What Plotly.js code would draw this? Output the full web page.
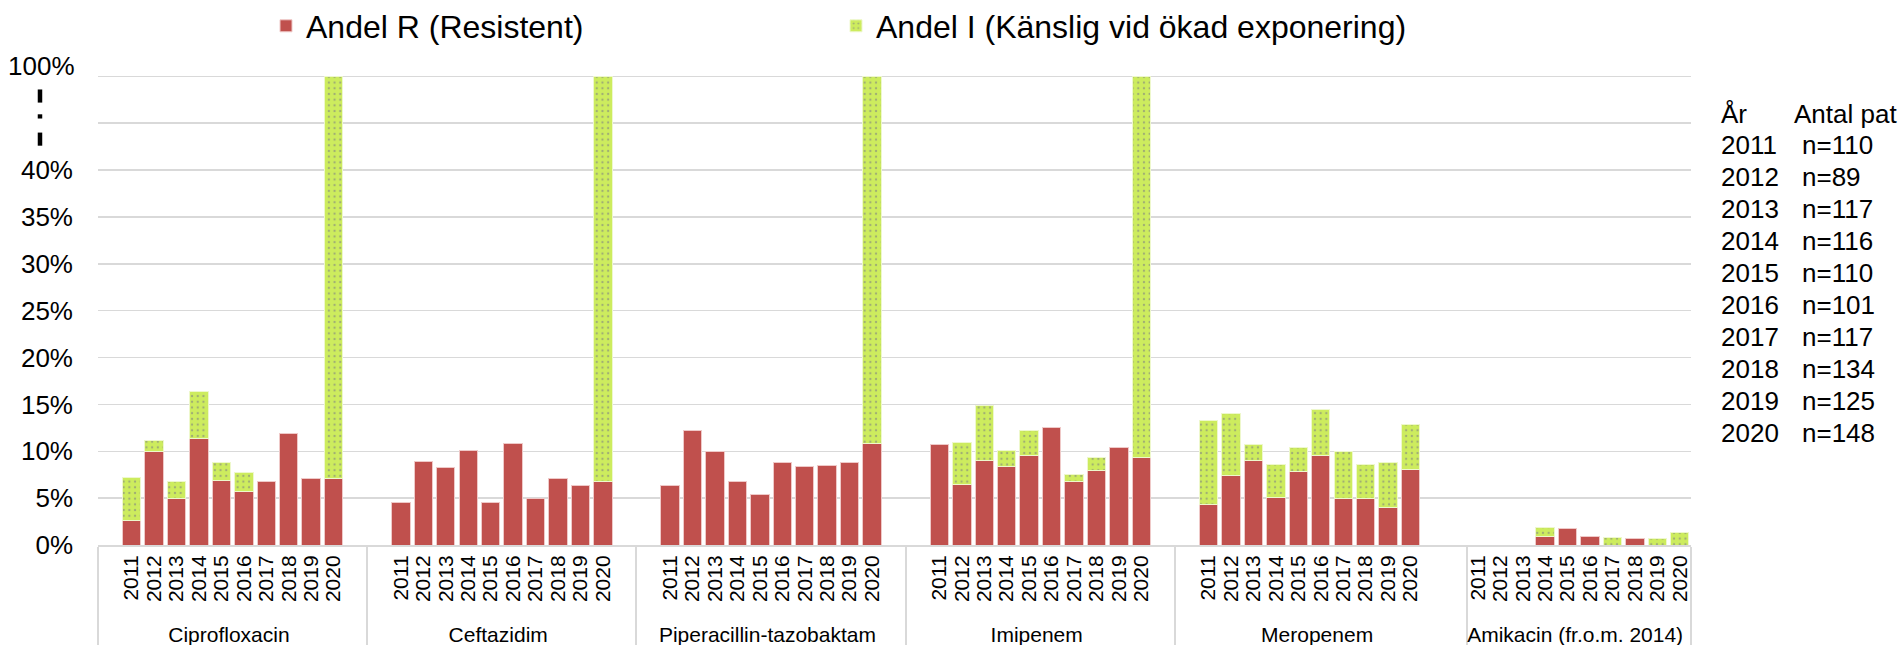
<!DOCTYPE html>
<html><head><meta charset="utf-8">
<script src="https://cdn.plot.ly/plotly-3.0.1.min.js"></script>
<style>html,body{margin:0;padding:0;background:#fff}#chart{width:1900px;height:645px}</style>
</head><body><div id="chart"></div>
<script>
// ---------- data ----------
const antibiotics = ["Ciprofloxacin", "Ceftazidim", "Piperacillin-tazobaktam", "Imipenem", "Meropenem", "Amikacin (fr.o.m. 2014)"];
const years = ["2011", "2012", "2013", "2014", "2015", "2016", "2017", "2018", "2019", "2020"];

const ciprofloxacinR = [2.6, 10.0, 5.0, 11.4, 6.9, 5.75, 6.8, 11.9, 7.1, 7.1];
const ciprofloxacinI = [4.6, 1.1, 1.8, 5.0, 1.85, 1.95, 0, 0, 0, 92.9];
const ceftazidimR = [4.5, 8.9, 8.3, 10.1, 4.5, 10.8, 5.0, 7.1, 6.4, 6.75];
const ceftazidimI = [0, 0, 0, 0, 0, 0, 0, 0, 0, 93.25];
const piptazR = [6.3, 12.2, 10.0, 6.75, 5.4, 8.8, 8.4, 8.5, 8.8, 10.8];
const piptazI = [0, 0, 0, 0, 0, 0, 0, 0, 0, 89.2];
const imipenemR = [10.7, 6.5, 9.0, 8.4, 9.5, 12.5, 6.75, 7.9, 10.4, 9.3];
const imipenemI = [0, 4.4, 5.85, 1.7, 2.7, 0, 0.8, 1.4, 0, 90.7];
const meropenemR = [4.35, 7.45, 9.05, 5.1, 7.8, 9.5, 4.95, 4.95, 3.95, 8.05];
const meropenemI = [8.9, 6.55, 1.7, 3.45, 2.6, 4.95, 5.0, 3.6, 4.85, 4.8];
const amikacinR = [null, null, null, 0.9, 1.75, 0.95, 0, 0.65, 0, 0];
const amikacinI = [null, null, null, 0.95, 0, 0, 0.8, 0, 0.7, 1.3];

const patientYears = years;
const patientCounts = [110, 89, 117, 116, 110, 101, 117, 134, 125, 148];

const seriesR = [ciprofloxacinR, ceftazidimR, piptazR, imipenemR, meropenemR, amikacinR];
const seriesI = [ciprofloxacinI, ceftazidimI, piptazI, imipenemI, meropenemI, amikacinI];

// ---------- layout helpers ----------
// empty category slots before / after each group (spacing, as in the original)
const blankSlots = [[1, 1], [1, 1], [1, 1], [1, 1], [1, 2], [0, 0]];
// broken axis: 0-40 % linear, 40-100 % compressed
function disp(v) { return v <= 40 ? v : 40 + (v - 40) / 6; }

const xOuter = [], xInner = [], yR = [], yI = [], cR = [], cI = [];
antibiotics.forEach((ab, g) => {
  for (let k = 0; k < blankSlots[g][0]; k++) { xOuter.push(ab); xInner.push(" "); yR.push(null); yI.push(null); cR.push(null); cI.push(null); }
  years.forEach((yr, i) => {
    const r = seriesR[g][i], iv = seriesI[g][i];
    xOuter.push(ab); xInner.push(yr);
    if (r === null) { yR.push(null); yI.push(null); cR.push(null); cI.push(null); return; }
    yR.push(r > 0 ? disp(r) : null);
    yI.push(iv > 0 ? disp(r + iv) - disp(r) : null);
    cR.push(r); cI.push(iv);
  });
  for (let k = 0; k < blankSlots[g][1]; k++) { xOuter.push(ab); xInner.push(" ".repeat(k + 2)); yR.push(null); yI.push(null); cR.push(null); cI.push(null); }
});

const FONT = "Liberation Sans, Arial, sans-serif";
const W = 1900, H = 645;
const yTop = 50.25;                       // a little head-room so the 100 % gridline is kept
const pxPerUnit = (545.5 - 76.7) / 50;
const mL = 98.3, mR = 209, mB = 99.5;
const mT = 76.7 - (yTop - 50) * pxPerUnit;
const pw = W - mL - mR, ph = H - mT - mB;
const px2x = px => (px - mL) / pw;
const px2y = py => (H - mB - py) / ph;

const traces = [
  { type: "bar", name: "Andel R (Resistent)", x: [xOuter, xInner], y: yR, customdata: cR,
    hovertemplate: "%{customdata}%<extra>R</extra>",
    marker: { color: "#c0504d", line: { color: "#efc9c8", width: 1 } } },
  { type: "bar", name: "Andel I (Känslig vid ökad exponering)", x: [xOuter, xInner], y: yI, customdata: cI,
    hovertemplate: "%{customdata}%<extra>I</extra>",
    marker: { color: "#cdec5e", line: { color: "#eef8cc", width: 1 },
      pattern: { shape: ".", fgcolor: "#727288", bgcolor: "#cdec5e", size: 5.7, solidity: 0.14, fillmode: "overlay" } } }
];

const yTickVals = [0, 5, 10, 15, 20, 25, 30, 35, 40, 45, 50];
const yTickText = ["0%", "5%", "10%", "15%", "20%", "25%", "30%", "35%", "40%", " ", " "];

const annotations = [];
// top label of the broken axis (sits slightly above its gridline, as in the original)
annotations.push({ xref: "paper", yref: "y", x: px2x(77.5), y: 50, yshift: 10, xanchor: "right", yanchor: "middle",
  showarrow: false, text: "100%", font: { family: FONT, size: 26, color: "#000" } });
// patient-count table on the right
const rowY0 = 145, rowStep = 32;
annotations.push({ xref: "paper", yref: "paper", x: px2x(1719), y: px2y(114), xanchor: "left", yanchor: "middle", showarrow: false, text: "År", font: { family: FONT, size: 26, color: "#000" } });
annotations.push({ xref: "paper", yref: "paper", x: px2x(1792), y: px2y(114), xanchor: "left", yanchor: "middle", showarrow: false, text: "Antal pat", font: { family: FONT, size: 26, color: "#000" } });
patientYears.forEach((yr, i) => {
  annotations.push({ xref: "paper", yref: "paper", x: px2x(1719), y: px2y(rowY0 + i * rowStep), xanchor: "left", yanchor: "middle", showarrow: false, text: yr, font: { family: FONT, size: 26, color: "#000" } });
  annotations.push({ xref: "paper", yref: "paper", x: px2x(1800), y: px2y(rowY0 + i * rowStep), xanchor: "left", yanchor: "middle", showarrow: false, text: "n=" + patientCounts[i], font: { family: FONT, size: 26, color: "#000" } });
});

// axis-break marks
const bx = px2x(40.3);
const shapes = [
  { type: "line", xref: "paper", yref: "y", x0: bx, x1: bx, y0: 47.2, y1: 48.6, line: { color: "#000", width: 4.5 } },
  { type: "line", xref: "paper", yref: "y", x0: bx, x1: bx, y0: 45.5, y1: 45.95, line: { color: "#000", width: 4.5 } },
  { type: "line", xref: "paper", yref: "y", x0: bx, x1: bx, y0: 42.6, y1: 44.0, line: { color: "#000", width: 4.5 } }
];

const layout = {
  width: W, height: H,
  margin: { l: mL, r: mR, t: mT, b: mB, pad: 0, autoexpand: false },
  paper_bgcolor: "#fff", plot_bgcolor: "#fff",
  font: { family: FONT, color: "#000" },
  barmode: "stack", bargap: 0.18,
  showlegend: true,
  legend: { orientation: "h", xref: "container", yref: "container", x: 266 / W, y: 1 - 26 / H,
    xanchor: "left", yanchor: "middle",
    font: { family: FONT, size: 32, color: "#000" }, entrywidth: 525, entrywidthmode: "pixels",
    bgcolor: "rgba(0,0,0,0)", traceorder: "normal" },
  xaxis: { type: "multicategory", tickmode: "linear", tick0: 0, dtick: 1, tickangle: -90,
    tickfont: { family: FONT, size: 21, color: "#000" },
    showline: true, linecolor: "#d9d9d9", linewidth: 2, ticks: "", showgrid: false, zeroline: false,
    showdividers: true, dividercolor: "#d9d9d9", dividerwidth: 2, automargin: false, fixedrange: true },
  yaxis: { range: [0, yTop], tickmode: "array", tickvals: yTickVals, ticktext: yTickText,
    showgrid: true, gridcolor: "#d9d9d9", gridwidth: 1.5,
    zeroline: false, showline: false, ticks: "", ticklabelstandoff: 24, tickfont: { family: FONT, size: 26, color: "#000" },
    automargin: false, fixedrange: true },
  annotations: annotations,
  shapes: shapes
};

Plotly.newPlot("chart", traces, layout, { displayModeBar: false, staticPlot: true });
</script>
</body></html>
